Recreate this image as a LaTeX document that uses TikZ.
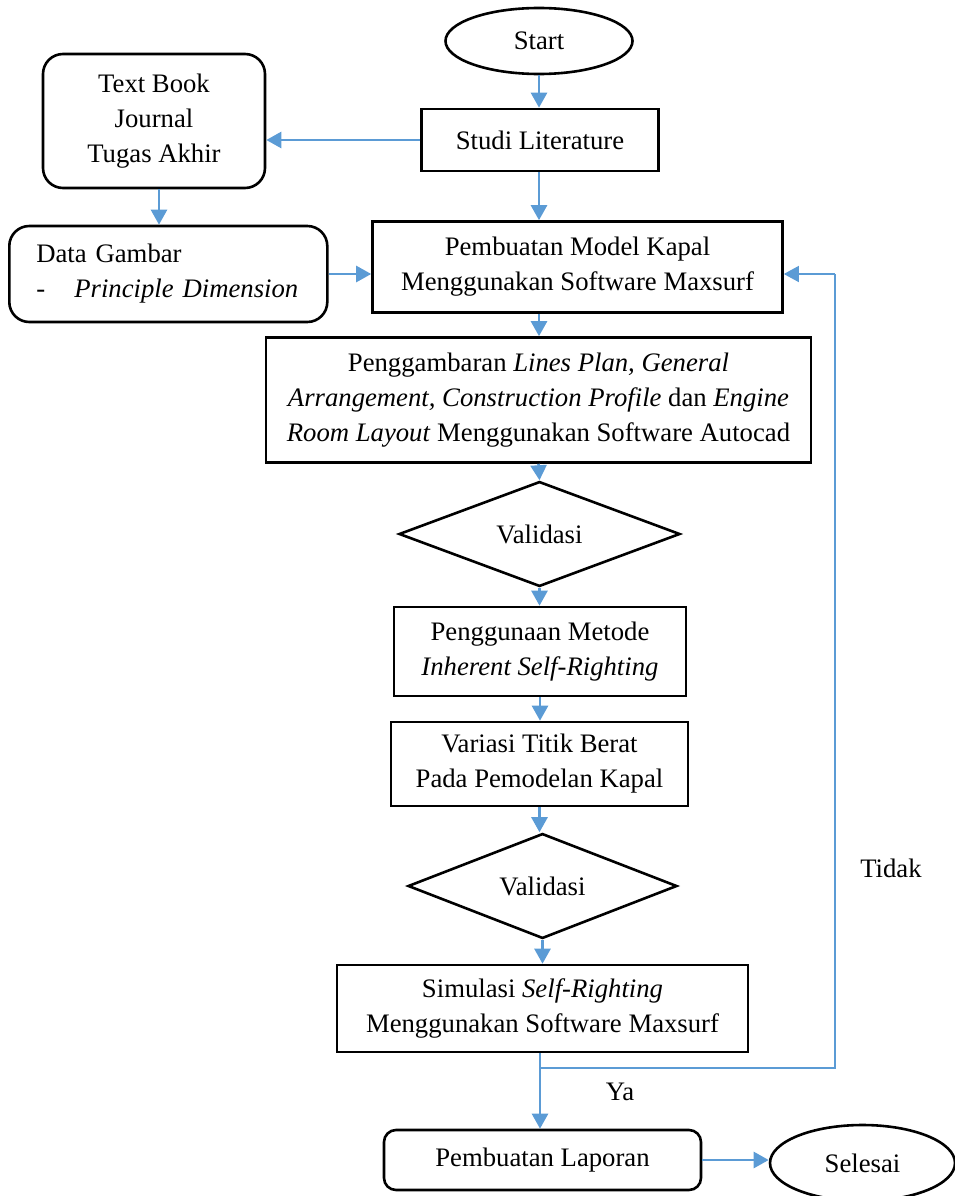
\documentclass[tikz,border=0pt]{standalone}
\usepackage{fontspec}
\setmainfont{Liberation Serif}
\usetikzlibrary{shapes.geometric,arrows.meta}
\definecolor{arrblue}{RGB}{91,155,213}
\begin{document}
\begin{tikzpicture}[x=1pt,y=-1pt,
  every node/.style={font=\fontsize{26.7}{35}\selectfont, inner sep=0pt},
  box/.style={draw=black, line width=2.6pt, rectangle, align=center},
  rbox/.style={box, rounded corners=20pt},
  oval/.style={draw=black, line width=2.6pt, ellipse},
  decision/.style={draw=black, line width=2.6pt, diamond},
  arr/.style={draw=arrblue, line width=2.6pt, -{Triangle[length=15pt,width=16pt]}},
  fbline/.style={draw=arrblue, line width=1.5pt},
  lbl/.style={}
]
\useasboundingbox (0,0) rectangle (955,1196);

\node[oval, minimum width=187, minimum height=66] (start) at (539,41) {Start};
\node[box, minimum width=237, minimum height=62] (studi) at (540,140) {Studi Literature};
\node[rbox, minimum width=222, minimum height=134] (book) at (154,121) {Text Book\\Journal\\Tugas Akhir};
\node[rbox, anchor=west, text width=264, inner xsep=27pt, minimum height=96, align=left] (data) at (8,274)
  {Data Gambar\\\makebox[38pt][l]{-}\textit{Principle Dimension}};
\node[box, minimum width=410, minimum height=91] (model) at (577.5,267) {Pembuatan Model Kapal\\Menggunakan Software Maxsurf};
\node[box, minimum width=545, minimum height=125] (draw) at (538.5,400)
  {Penggambaran \textit{Lines Plan, General}\\\textit{Arrangement, Construction Profile} dan \textit{Engine}\\\textit{Room Layout} Menggunakan Software Autocad};
\node[decision, minimum width=281, minimum height=96] (val1) at (539.5,534) {Validasi};
\node[box, minimum width=292, minimum height=89] (metode) at (540,651.5) {Penggunaan Metode\\\textit{Inherent Self-Righting}};
\node[box, minimum width=297, minimum height=84] (variasi) at (539.5,764) {Variasi Titik Berat\\Pada Pemodelan Kapal};
\node[decision, minimum width=269, minimum height=102] (val2) at (542.5,886) {Validasi};
\node[box, minimum width=411, minimum height=87] (sim) at (542.5,1008.5) {Simulasi \textit{Self-Righting}\\Menggunakan Software Maxsurf};
\node[rbox, rounded corners=12pt, minimum width=317, minimum height=60] (lap) at (542.5,1160) {Pembuatan Laporan};
\node[oval, minimum width=185, minimum height=76] (selesai) at (862.5,1163) {Selesai};

\node[lbl] (ya) at (620,1092) {Ya};
\node[lbl] (tidak) at (891,868) {Tidak};

\coordinate (split) at (540,1068);
\coordinate (corner) at (835,1068);

\draw[arr] (start) -- (start.south |- studi.north);
\draw[arr] (studi.west) -- (studi.west -| book.east);
\draw[arr] ([xshift=5pt]book.south) -- ([xshift=5pt]book.south |- data.north);
\draw[arr] (data.east) -- (data.east -| model.west);
\draw[arr] (studi.south -| start.south) -- (start.south |- model.north);
\draw[arr] (start.south |- model.south) -- (start.south |- draw.north);
\draw[arr] (draw.south) -- (val1.north);
\draw[arr] (val1.south) -- (val1.south |- metode.north);
\draw[arr] (metode.south) -- (metode.south |- variasi.north);
\draw[arr] (variasi.south) -- (variasi.south |- val2.north);
\draw[arr] (val2.south) -- (val2.south |- sim.north);
\draw[arr] (split |- sim.south) -- (split |- lap.north);
\draw[fbline] (split) -- (corner) -- (corner |- data.east);
\draw[arr, line width=1.5pt] (corner |- data.east) -- (corner |- data.east -| model.east);
\draw[arr] (lap.east) -- (lap.east -| selesai.west);
\end{tikzpicture}
\end{document}
